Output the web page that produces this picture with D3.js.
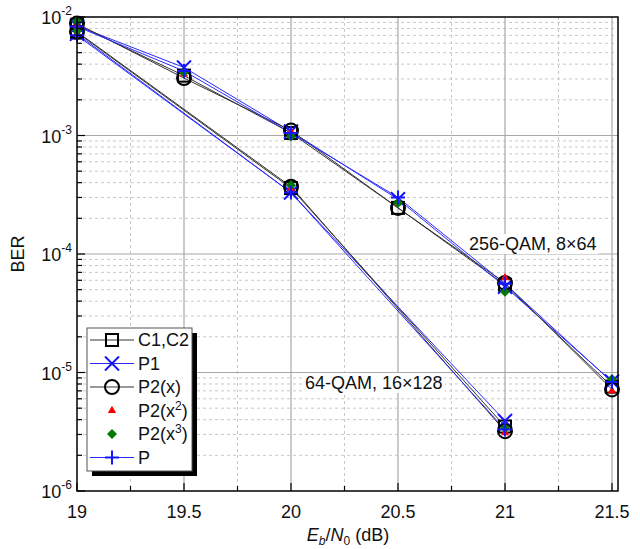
<!DOCTYPE html>
<html>
<head>
<meta charset="utf-8">
<script src="https://cdn.jsdelivr.net/npm/d3@7/dist/d3.min.js"></script>
<style>
  body { margin: 0; background: #fff; }
  svg { display: block; font-family: "Liberation Sans", Arial, sans-serif; }
</style>
</head>
<body>
<svg id="chart" width="640" height="549"></svg>
<script>
// Eb/N0 points for each modulation
const ebn0_256 = [19, 19.5, 20, 20.5, 21, 21.5];
const ebn0_64 = [19, 20, 21];

// BER, 256-QAM 8x64
const c1c2_256 = [8.6e-3, 3.2e-3, 1.05e-3, 2.45e-4, 5.5e-5, 7.6e-6];
const p1_256   = [8.4e-3, 3.75e-3, 1.08e-3, 2.9e-4, 5.3e-5, 8.4e-6];
const p2x_256  = [8.8e-3, 3.05e-3, 1.1e-3, 2.45e-4, 5.7e-5, 7.2e-6];
const p2x2_256 = [8.5e-3, 3.3e-3, 1.08e-3, 2.7e-4, 6.3e-5, 7.0e-6];
const p2x3_256 = [9.2e-3, 3.4e-3, 0.98e-3, 2.7e-4, 4.8e-5, 8.8e-6];
const p_256    = [8.3e-3, 3.5e-3, 1.05e-3, 3.0e-4, 5.6e-5, 8.3e-6];

// BER, 64-QAM 16x128
const c1c2_64 = [7.4e-3, 3.6e-4, 3.5e-6];
const p1_64   = [7.2e-3, 3.3e-4, 3.9e-6];
const p2x_64  = [7.5e-3, 3.7e-4, 3.2e-6];
const p2x2_64 = [7.3e-3, 3.6e-4, 3.1e-6];
const p2x3_64 = [7.6e-3, 3.8e-4, 3.4e-6];
const p_64    = [7.0e-3, 3.3e-4, 3.3e-6];

const xTicks = [19, 19.5, 20, 20.5, 21, 21.5];
const yExponents = [-2, -3, -4, -5, -6];
const legendNames = ["C1,C2", "P1", "P2(x)", "P2(x\u00B2)", "P2(x\u00B3)", "P"];

const svg = d3.select("#chart");
const L = 77, R = 618, T = 17, B = 491;
const FS = 18, FSS = 12;

const x = d3.scaleLinear().domain([19, 21.528]).range([L, R]);
const y = d3.scaleLog().domain([1e-6, 1e-2]).range([B, T]);

// grid
const grid = svg.append("g");
const xMinor = d3.range(19.25, 21.5, 0.5);
grid.selectAll(".xm").data(xMinor).join("line")
  .attr("x1", d => x(d)).attr("x2", d => x(d)).attr("y1", T).attr("y2", B)
  .attr("stroke", "#c8c8c8").attr("stroke-dasharray", "3,3");
const yMinor = [];
for (let e = -6; e < -2; e++) for (let m = 2; m <= 9; m++) yMinor.push(m * Math.pow(10, e));
grid.selectAll(".ym").data(yMinor).join("line")
  .attr("x1", L).attr("x2", R).attr("y1", d => y(d)).attr("y2", d => y(d))
  .attr("stroke", "#c8c8c8").attr("stroke-dasharray", "3,3");
grid.selectAll(".xM").data(xTicks.slice(1)).join("line")
  .attr("x1", d => x(d)).attr("x2", d => x(d)).attr("y1", T).attr("y2", B)
  .attr("stroke", "#a8a8a8").attr("stroke-width", 1.2);
grid.selectAll(".yM").data(yExponents.slice(1, 4)).join("line")
  .attr("x1", L).attr("x2", R).attr("y1", d => y(Math.pow(10, d))).attr("y2", d => y(Math.pow(10, d)))
  .attr("stroke", "#a8a8a8").attr("stroke-width", 1.2);

// curve labels with white backing
function boxedLabel(tx, ty, text) {
  const g = svg.append("g");
  const t = g.append("text").attr("x", tx).attr("y", ty).attr("font-size", FS).attr("fill", "#111").text(text);
  const bb = t.node().getBBox();
  g.insert("rect", "text").attr("x", bb.x - 2).attr("y", bb.y).attr("width", bb.width + 4).attr("height", bb.height).attr("fill", "#fff");
}
boxedLabel(469, 250, "256-QAM, 8\u00D764");
boxedLabel(305, 389, "64-QAM, 16\u00D7128");

// series
const series = [
  { name: legendNames[0], d256: c1c2_256, d64: c1c2_64, line: "#333", sym: "square" },
  { name: legendNames[1], d256: p1_256, d64: p1_64, line: "#2a2aff", sym: "x" },
  { name: legendNames[2], d256: p2x_256, d64: p2x_64, line: "#333", sym: "circle" },
  { name: legendNames[3], d256: p2x2_256, d64: p2x2_64, line: null, sym: "tri" },
  { name: legendNames[4], d256: p2x3_256, d64: p2x3_64, line: null, sym: "diamond" },
  { name: legendNames[5], d256: p_256, d64: p_64, line: "#2a2aff", sym: "plus" }
];

function drawMarker(g, sym, cx, cy) {
  switch (sym) {
    case "square":
      g.append("rect").attr("x", cx - 6).attr("y", cy - 6).attr("width", 12).attr("height", 12)
        .attr("fill", "none").attr("stroke", "#000").attr("stroke-width", 2); break;
    case "x":
      g.append("path").attr("d", `M${cx-7},${cy-7}L${cx+7},${cy+7}M${cx-7},${cy+7}L${cx+7},${cy-7}`)
        .attr("stroke", "#1515ff").attr("stroke-width", 2); break;
    case "circle":
      g.append("circle").attr("cx", cx).attr("cy", cy).attr("r", 7)
        .attr("fill", "none").attr("stroke", "#000").attr("stroke-width", 2); break;
    case "tri":
      g.append("path").attr("d", d3.symbol(d3.symbolTriangle, 30)()).attr("transform", `translate(${cx},${cy})`)
        .attr("fill", "#ff0000"); break;
    case "diamond":
      g.append("path").attr("d", `M${cx},${cy-5}L${cx+5},${cy}L${cx},${cy+5}L${cx-5},${cy}Z`)
        .attr("fill", "#007a00"); break;
    case "plus":
      g.append("path").attr("d", `M${cx-7},${cy}L${cx+7},${cy}M${cx},${cy-7}L${cx},${cy+7}`)
        .attr("stroke", "#1515ff").attr("stroke-width", 2); break;
  }
}

const lineGen = d3.line().x(d => x(d[0])).y(d => y(d[1]));
const lines = svg.append("g");
series.forEach(s => {
  if (!s.line) return;
  [[ebn0_256, s.d256], [ebn0_64, s.d64]].forEach(([xs, vs]) => {
    lines.append("path").attr("d", lineGen(xs.map((v, i) => [v, vs[i]])))
      .attr("fill", "none").attr("stroke", s.line).attr("stroke-width", 1);
  });
});
const marks = svg.append("g");
series.forEach(s => {
  ebn0_256.forEach((v, i) => drawMarker(marks, s.sym, x(v), y(s.d256[i])));
  ebn0_64.forEach((v, i) => drawMarker(marks, s.sym, x(v), y(s.d64[i])));
});

// frame
svg.append("rect").attr("x", L).attr("y", T).attr("width", R - L).attr("height", B - T)
  .attr("fill", "none").attr("stroke", "#000").attr("stroke-width", 1.5);

// inward ticks
const tk = svg.append("g").attr("stroke", "#000").attr("stroke-width", 1.2);
xTicks.forEach(v => tk.append("line").attr("x1", x(v)).attr("x2", x(v)).attr("y1", B).attr("y2", B - 8));
xMinor.forEach(v => tk.append("line").attr("x1", x(v)).attr("x2", x(v)).attr("y1", B).attr("y2", B - 5));
yExponents.forEach(e => tk.append("line").attr("x1", L).attr("x2", L + 8).attr("y1", y(Math.pow(10, e))).attr("y2", y(Math.pow(10, e))));
yMinor.forEach(v => tk.append("line").attr("x1", L).attr("x2", L + 5).attr("y1", y(v)).attr("y2", y(v)));

// tick labels
svg.append("g").selectAll("text").data(xTicks).join("text")
  .attr("x", d => x(d)).attr("y", B + 27).attr("text-anchor", "middle").attr("font-size", FS).attr("fill", "#111")
  .text(d => d);
const yl = svg.append("g");
yExponents.forEach(e => {
  const t = yl.append("text").attr("x", L - 5).attr("y", y(Math.pow(10, e)) + 7).attr("text-anchor", "end")
    .attr("font-size", FS).attr("fill", "#111");
  t.append("tspan").text("10");
  t.append("tspan").attr("font-size", FSS).attr("dy", -9).text(String(e));
});

// axis titles
svg.append("text").attr("transform", `translate(24,${(T + B) / 2}) rotate(-90)`).attr("text-anchor", "middle")
  .attr("font-size", FS).attr("fill", "#111").text("BER");
const xt = svg.append("text").attr("x", 348).attr("y", 541).attr("text-anchor", "middle").attr("font-size", FS).attr("fill", "#111");
xt.append("tspan").attr("font-style", "italic").text("E");
xt.append("tspan").attr("font-style", "italic").attr("font-size", FSS).attr("dy", 4).text("b");
xt.append("tspan").attr("dy", -4).text("/");
xt.append("tspan").attr("font-style", "italic").text("N");
xt.append("tspan").attr("font-size", FSS).attr("dy", 4).text("0");
xt.append("tspan").attr("dy", -4).text(" (dB)");

// legend
const lg = svg.append("g");
lg.append("rect").attr("x", 92).attr("y", 333).attr("width", 105).attr("height", 143).attr("fill", "#000");
lg.append("rect").attr("x", 87).attr("y", 328).attr("width", 105).attr("height", 143).attr("fill", "#fff").attr("stroke", "#555").attr("stroke-width", 1);
series.forEach((s, i) => {
  const cy = 340 + i * 23.5;
  if (s.line) lg.append("line").attr("x1", 90).attr("x2", 134).attr("y1", cy).attr("y2", cy).attr("stroke", s.line).attr("stroke-width", 1);
  drawMarker(lg, s.sym, 112, cy);
  const t = lg.append("text").attr("x", 138).attr("y", cy + 6).attr("font-size", FS).attr("fill", "#111");
  if (i === 3 || i === 4) {
    t.append("tspan").text("P2(x");
    t.append("tspan").attr("font-size", FSS).attr("dy", -7).text(i === 3 ? "2" : "3");
    t.append("tspan").attr("dy", 7).text(")");
  } else t.text(s.name);
});
</script>
</body>
</html>
